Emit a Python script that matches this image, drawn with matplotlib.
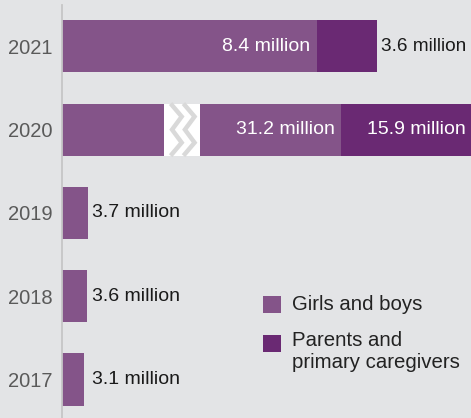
import matplotlib
matplotlib.use("Agg")
import matplotlib.pyplot as plt
from matplotlib.patches import Rectangle
from matplotlib.lines import Line2D

# ---- data ----
years = ["2017", "2018", "2019", "2020", "2021"]
girls_boys = [3.1, 3.6, 3.7, 31.2, 8.4]          # millions
parents = [0.0, 0.0, 0.0, 15.9, 3.6]              # millions
# The source infographic is not drawn to scale: drawn bar lengths
drawn_girls = [3.1, 3.6, 3.7, 39.9, 36.4]
drawn_parents = [0.0, 0.0, 0.0, 20.0, 8.6]
break_year = "2020"
break_span = (14.6, 19.7)
series_names = ["Girls and boys", "Parents and\nprimary caregivers"]

BG = "#e3e4e6"
C_GIRLS = "#845489"
C_PARENTS = "#6a2973"
FONT = "Liberation Sans"

fig = plt.figure(figsize=(4.71, 4.18), dpi=100, facecolor=BG)
W, H = 471, 418
ax = fig.add_axes([62 / W, 0, 1 - 62 / W, 1 - 5 / H])
ax.set_facecolor(BG)

ypos = list(range(len(years)))
bh = 0.625
ax.barh(ypos, drawn_girls, height=bh, color=C_GIRLS, zorder=2)
ax.barh(ypos, drawn_parents, left=drawn_girls, height=bh, color=C_PARENTS, zorder=2)

ax.set_xlim(0, 409 / 7)
ax.set_ylim(-0.462, 4.496)

# break marker on 2020 bar
bi = years.index(break_year)
ax.add_patch(Rectangle((break_span[0], bi - bh / 2), break_span[1] - break_span[0], bh,
                       facecolor="white", edgecolor="none", zorder=3))
bw = break_span[1] - break_span[0]
for off in (0.22, 0.58):
    x0 = break_span[0] + bw * off
    dx = bw * 0.27
    ys = [bi + bh / 2 - 0.02, bi + bh / 4, bi + 0.0, bi - bh / 4, bi - bh / 2 + 0.02]
    xs = [x0, x0 + dx, x0, x0 + dx, x0]
    ax.add_line(Line2D(xs, ys, color="#d9d9d9", lw=3.2, zorder=4, solid_joinstyle="miter"))

# value labels
fs = 14.0
xmax = ax.get_xlim()[1]
single_label_x = max(d for d, p in zip(drawn_girls, drawn_parents) if p == 0) + 0.6
for i, y in enumerate(years):
    g, p = girls_boys[i], parents[i]
    dg, dp = drawn_girls[i], drawn_parents[i]
    if p > 0:
        ax.text(dg - 0.9, i, f"{g:g} million", ha="right", va="center", color="white",
                fontsize=fs, family=FONT, zorder=5)
        end = dg + dp
        if end > xmax:
            ax.text(xmax - 0.7, i, f"{p:g} million", ha="right", va="center", color="white",
                    fontsize=fs, family=FONT, zorder=5)
        else:
            ax.text(end + 0.6, i, f"{p:g} million", ha="left", va="center", color="#1a1a1a",
                    fontsize=fs - 0.3, family=FONT, zorder=5, clip_on=False)
    else:
        ax.text(single_label_x, i, f"{g:g} million", ha="left", va="center", color="#1a1a1a",
                fontsize=fs, family=FONT, zorder=5)

# axes styling
for s in ["top", "right", "bottom"]:
    ax.spines[s].set_visible(False)
ax.spines["left"].set_color("#c6c6c6")
ax.spines["left"].set_linewidth(1.3)
ax.set_xticks([])
ax.set_yticks(ypos)
ax.set_yticklabels(years, family=FONT, fontsize=14.5, color="#5a5a5a")
ax.tick_params(axis="y", length=0, pad=7)

# legend (manual)
for (ytop, col) in [(296, C_GIRLS), (335, C_PARENTS)]:
    fig.patches.append(Rectangle((263 / W, 1 - (ytop + 17) / H), 18 / W, 17 / H,
                                 transform=fig.transFigure, facecolor=col, edgecolor="none"))
fig.text(292 / W, 1 - 305 / H, series_names[0], ha="left", va="center", family=FONT,
         fontsize=14.7, color="#222222")
fig.text(292 / W, 1 - 331 / H, series_names[1], ha="left", va="top", family=FONT,
         fontsize=14.7, color="#222222", linespacing=1.2)

fig.savefig("out.png", dpi=100, facecolor=BG)
